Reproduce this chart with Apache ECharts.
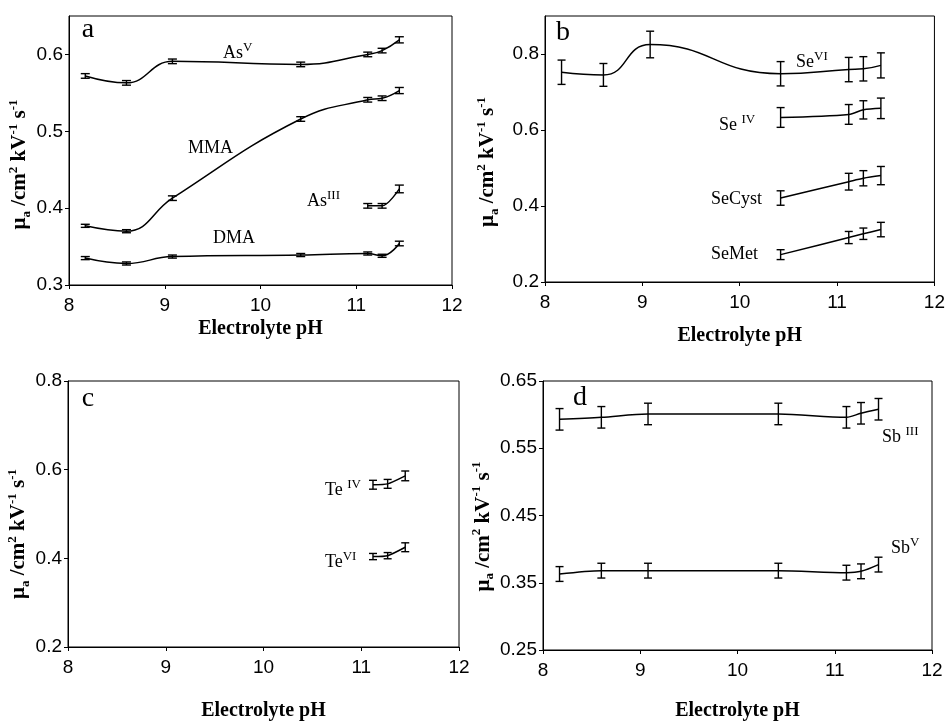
<!DOCTYPE html>
<html>
<head>
<meta charset="utf-8">
<script src="https://cdn.jsdelivr.net/npm/echarts@6/dist/echarts.min.js"></script>
<style>
html,body{margin:0;padding:0;background:#fff;}
#c{width:948px;height:722px;}
</style>
</head>
<body>
<div id="c"></div>
<script>
// ---- data ----
const pH = [8.17, 8.6, 9.08, 10.42, 11.12, 11.27, 11.45];
const pH4 = [10.42, 11.12, 11.27, 11.45];
const pH3 = [11.12, 11.27, 11.45];
const xTicks = [8, 9, 10, 11, 12];

// panel a
const AsV = [0.572, 0.563, 0.591, 0.587, 0.600, 0.605, 0.619];
const AsV_err = [0.003, 0.003, 0.003, 0.003, 0.003, 0.003, 0.004];
const MMA = [0.377, 0.370, 0.413, 0.516, 0.541, 0.543, 0.553];
const MMA_err = [0.002, 0.002, 0.003, 0.003, 0.003, 0.003, 0.004];
const AsIII = [0.403, 0.403, 0.425];
const AsIII_err = [0.003, 0.003, 0.005];
const DMA = [0.335, 0.328, 0.337, 0.339, 0.341, 0.338, 0.354];
const DMA_err = [0.002, 0.002, 0.002, 0.002, 0.002, 0.002, 0.003];
const yTicksA = [0.3, 0.4, 0.5, 0.6];

// panel b
const SeVI = [0.752, 0.745, 0.825, 0.748, 0.759, 0.761, 0.770];
const SeVI_err = [0.032, 0.030, 0.035, 0.032, 0.032, 0.032, 0.033];
const SeIV = [0.633, 0.641, 0.653, 0.657];
const SeIV_err = [0.026, 0.026, 0.024, 0.027];
const SeCyst = [0.421, 0.464, 0.473, 0.480];
const SeCyst_err = [0.019, 0.022, 0.020, 0.024];
const SeMet = [0.272, 0.317, 0.327, 0.338];
const SeMet_err = [0.013, 0.016, 0.015, 0.019];
const yTicksB = [0.2, 0.4, 0.6, 0.8];

// panel c
const TeIV = [0.566, 0.568, 0.586];
const TeIV_err = [0.010, 0.010, 0.011];
const TeVI = [0.404, 0.406, 0.425];
const TeVI_err = [0.007, 0.007, 0.010];
const yTicksC = [0.2, 0.4, 0.6, 0.8];

// panel d
const SbIII = [0.593, 0.596, 0.601, 0.601, 0.596, 0.602, 0.608];
const SbIII_err = [0.016, 0.016, 0.016, 0.016, 0.016, 0.016, 0.016];
const SbV = [0.363, 0.368, 0.368, 0.368, 0.365, 0.367, 0.377];
const SbV_err = [0.011, 0.011, 0.011, 0.011, 0.011, 0.011, 0.011];
const yTicksD = [0.25, 0.35, 0.45, 0.55, 0.65];

// ---- helpers ----
const SERIF = '"Liberation Serif", "Times New Roman", serif';
const SANS = '"Liberation Sans", Arial, sans-serif';

function zip(xs, ys, es) { return xs.map((x, i) => es ? [x, ys[i], es[i]] : [x, ys[i]]); }

function errRender(capW) {
  return function (params, api) {
    const x = api.value(0), y = api.value(1), e = api.value(2);
    const t = api.coord([x, y + e]);
    const b = api.coord([x, y - e]);
    const st = { stroke: '#000', lineWidth: 1.4 };
    return {
      type: 'group',
      children: [
        { type: 'line', shape: { x1: t[0], y1: t[1], x2: b[0], y2: b[1] }, style: st },
        { type: 'line', shape: { x1: t[0] - capW, y1: t[1], x2: t[0] + capW, y2: t[1] }, style: st },
        { type: 'line', shape: { x1: b[0] - capW, y1: b[1], x2: b[0] + capW, y2: b[1] }, style: st }
      ]
    };
  };
}

const series = [];
function addSeries(gi, xs, ys, es, smooth, capW) {
  series.push({
    type: 'line', xAxisIndex: gi, yAxisIndex: gi, data: zip(xs, ys),
    smooth: smooth, symbol: 'none',
    lineStyle: { color: '#000', width: 1.5 }, z: 2
  });
  series.push({
    type: 'custom', xAxisIndex: gi, yAxisIndex: gi, data: zip(xs, ys, es),
    renderItem: errRender(capW), z: 3
  });
}

addSeries(0, pH, AsV, AsV_err, 0.45, 4.5);
addSeries(0, pH, MMA, MMA_err, 0.45, 4.5);
addSeries(0, pH3, AsIII, AsIII_err, 0.3, 4.5);
addSeries(0, pH, DMA, DMA_err, 0.45, 4.5);
addSeries(1, pH, SeVI, SeVI_err, 0.5, 4);
addSeries(1, pH4, SeIV, SeIV_err, 0.3, 4);
addSeries(1, pH4, SeCyst, SeCyst_err, 0.3, 4);
addSeries(1, pH4, SeMet, SeMet_err, 0.3, 4);
addSeries(2, pH3, TeIV, TeIV_err, 0.2, 4);
addSeries(2, pH3, TeVI, TeVI_err, 0.2, 4);
addSeries(3, pH, SbIII, SbIII_err, 0.3, 4);
addSeries(3, pH, SbV, SbV_err, 0.3, 4);

const grids = [
  { left: 69, top: 16, width: 383, height: 269 },
  { left: 545, top: 16, width: 390, height: 266 },
  { left: 68, top: 381, width: 391, height: 267 },
  { left: 543, top: 381, width: 389, height: 269 }
].map(g => Object.assign(g, { show: true, borderColor: '#000', borderWidth: 1, backgroundColor: 'transparent' }));

const xGaps = [34, 44, 54, 51];
const xAxes = xGaps.map((gap, gi) => ({
  type: 'value', gridIndex: gi, min: 8, max: 12, interval: 1,
  name: 'Electrolyte pH', nameLocation: 'middle', nameGap: gap,
  nameTextStyle: { fontFamily: SERIF, fontWeight: 'bold', fontSize: 20, color: '#000' },
  axisLine: { show: true, lineStyle: { color: '#000', width: 1 } },
  axisTick: { show: true, length: 4, lineStyle: { color: '#000' }, customValues: xTicks },
  axisLabel: { fontFamily: SANS, fontSize: 19, color: '#000', margin: 11, customValues: xTicks },
  splitLine: { show: false }
}));

const yName = '{m|μ}{sub|a}{m| /cm}{sup|2}{m| kV}{sup|-1}{m| s}{sup|-1}';
const yRich = {
  m: { fontFamily: SERIF, fontWeight: 'bold', fontSize: 21, color: '#000', lineHeight: 26, verticalAlign: 'middle' },
  sup: { fontFamily: SERIF, fontWeight: 'bold', fontSize: 13, color: '#000', lineHeight: 26, verticalAlign: 'top' },
  sub: { fontFamily: SERIF, fontWeight: 'bold', fontSize: 13, color: '#000', lineHeight: 26, verticalAlign: 'bottom' }
};
const yCfg = [
  { min: 0.3, max: 0.65, ticks: yTicksA, gap: 32, shift: 28 },
  { min: 0.2, max: 0.9, ticks: yTicksB, gap: 44, shift: 26 },
  { min: 0.2, max: 0.8, ticks: yTicksC, gap: 29, shift: 40 },
  { min: 0.25, max: 0.65, ticks: yTicksD, gap: 46, shift: 22 }
];
const yAxes = yCfg.map((c, gi) => ({
  type: 'value', gridIndex: gi, min: c.min, max: c.max,
  name: yName, nameLocation: 'middle', nameGap: c.gap, nameRotate: 90,
  nameTextStyle: { rich: yRich, padding: [0, c.shift, 0, 0] },
  axisLine: { show: true, lineStyle: { color: '#000', width: 1 } },
  axisTick: { show: true, length: 4, lineStyle: { color: '#000' }, customValues: c.ticks },
  axisLabel: { fontFamily: SANS, fontSize: 19, color: '#000', margin: 6, customValues: c.ticks },
  splitLine: { show: false }
}));

const labRich = {
  n: { fontFamily: SERIF, fontSize: 18, fill: '#000', color: '#000', lineHeight: 24, verticalAlign: 'middle' },
  s: { fontFamily: SERIF, fontSize: 13, fill: '#000', color: '#000', lineHeight: 24, verticalAlign: 'top' }
};
function lab(x, y, text) {
  return { type: 'text', x: x, y: y, z: 10,
    style: { text: text, rich: labRich, fill: '#000', align: 'left', verticalAlign: 'middle',
             font: '18px ' + SERIF } };
}
function letter(x, y, t) {
  return { type: 'text', x: x, y: y, z: 10,
    style: { text: t, fill: '#000', align: 'center', verticalAlign: 'middle', font: '28px ' + SERIF } };
}

const graphics = [
  letter(88, 30, 'a'), letter(563, 33, 'b'), letter(88, 399, 'c'), letter(580, 398, 'd'),
  lab(223, 53, '{n|As}{s|V}'),
  lab(188, 148, '{n|MMA}'),
  lab(307, 201, '{n|As}{s|III}'),
  lab(213, 238, '{n|DMA}'),
  lab(796, 62, '{n|Se}{s|VI}'),
  lab(719, 125, '{n|Se }{s|IV}'),
  lab(711, 199, '{n|SeCyst}'),
  lab(711, 254, '{n|SeMet}'),
  lab(325, 490, '{n|Te }{s|IV}'),
  lab(325, 562, '{n|Te}{s|VI}'),
  lab(882, 437, '{n|Sb }{s|III}'),
  lab(891, 548, '{n|Sb}{s|V}')
];

const chart = echarts.init(document.getElementById('c'), null, { renderer: 'canvas' });
chart.setOption({
  animation: false,
  backgroundColor: '#fff',
  grid: grids,
  xAxis: xAxes,
  yAxis: yAxes,
  series: series,
  graphic: graphics
});
</script>
</body>
</html>
